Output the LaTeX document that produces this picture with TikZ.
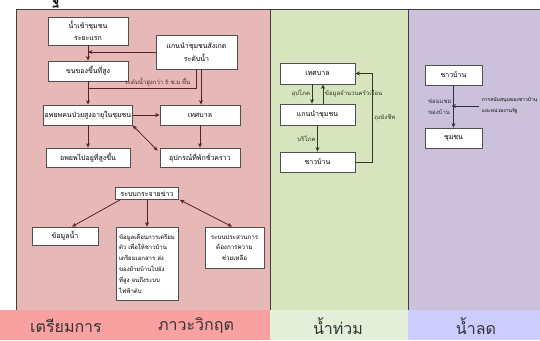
\documentclass[tikz,border=0pt]{standalone}
\usepackage{fontspec}
\newfontfamily\thai[Script=Thai]{Loma}
\usetikzlibrary{positioning,arrows.meta}
\definecolor{pinkpanel}{HTML}{E6B9B8}
\definecolor{greenpanel}{HTML}{D7E4BD}
\definecolor{purplepanel}{HTML}{CCC1DA}
\definecolor{pinkstrip}{HTML}{F9A0A0}
\definecolor{greenstrip}{HTML}{E3EFD9}
\definecolor{purplestrip}{HTML}{CCCCFF}
\definecolor{boxline}{HTML}{505050}
\definecolor{pinkarrow}{HTML}{5C1F1F}
\definecolor{greenarrow}{HTML}{2F3A1A}
\definecolor{purplearrow}{HTML}{2B2B55}
\begin{document}
\begin{tikzpicture}[x=1pt, y=-1pt, line width=0.8pt, >={Stealth[length=4.5pt,width=4pt]},
	main/.style = {draw=boxline, fill=white, inner sep=1pt, align=center, font=\thai\fontsize{7}{12.5}\selectfont},
	lbl/.style = {font=\thai\fontsize{6}{11}\selectfont, inner sep=1.5pt, align=left},
	phase/.style = {font=\thai\fontsize{16}{18}\selectfont, text=black!80}]
		\useasboundingbox (0,0) rectangle (540,340);
		%Panels and bottom strip
		\fill[pinkpanel] (16,9) rectangle (270,310);
		\fill[greenpanel] (270,9) rectangle (408,310);
		\fill[purplepanel] (408,9) rectangle (540,310);
		\draw[black!75] (540,9) -- (16,9) -- (16,310) -- (540,310);
		\draw[black!75] (270,9) -- (270,310);
		\draw[black!75] (408,9) -- (408,310);
		\fill[pinkstrip] (0,310) rectangle (270,340);
		\fill[greenstrip] (270,310) rectangle (408,340);
		\fill[purplestrip] (408,310) rectangle (540,340);
		\node[font=\thai\bfseries\fontsize{14}{14}\selectfont] (0) at (56,2) {ฐ};
		
		%Preparation part
		\node[main, minimum width=80pt, minimum height=28pt] (1) at (88,31) {น้ำเข้าชุมชน\\ระยะแรก};
		\node[main, minimum width=81pt, minimum height=34pt] (2) at (196.5,52) {แกนนำชุมชนสังเกต\\ระดับน้ำ};
		\node[main, minimum width=80pt, minimum height=20pt] (3) [node distance={40pt},below of=1] {ขนของขึ้นที่สูง};
		\node[main, minimum width=84pt, minimum height=20pt] (4) [node distance={44pt},below of=3] {อพยพคนป่วยสูงอายุในชุมชน};
		\node[main, minimum width=80pt, minimum height=20pt] (5) [node distance={112pt},right of=4] {เทศบาล};
		\node[main, minimum width=84pt, minimum height=19pt] (6) [node distance={42.5pt},below of=4] {อพยพไปอยู่ที่สูงขึ้น};
		\node[main, minimum width=80pt, minimum height=19pt] (7) [node distance={112pt},right of=6] {อุปกรณ์ที่พักชั่วคราว};
		%Crisis part
		\node[main, minimum width=63pt, minimum height=12pt] (8) at (147,193.5) {ระบบกระจายข่าว};
		\node[main, minimum width=66pt, minimum height=18pt] (9) at (65,236) {ข้อมูลน้ำ};
		\node[main, minimum width=62pt, minimum height=73pt, font=\thai\fontsize{6}{10.8}\selectfont, align=left] (10) [node distance={70pt},below of=8] {ข้อมูลเตือนการเตรียม\\ตัว เพื่อให้ชาวบ้าน\\เตรียมเอกสาร ส่ง\\ของย้ายบ้านไปยัง\\ที่สูง จนถึงระบบ\\ไฟฟ้าดับ};
		\node[main, minimum width=59pt, minimum height=41pt, font=\thai\fontsize{6.2}{10.5}\selectfont] (11) at (234.5,247.5) {ระบบประสานการ\\ต้องการความ\\ช่วยเหลือ};
		%Flood part
		\node[main, minimum width=75pt, minimum height=21pt] (12) at (317.5,73.5) {เทศบาล};
		\node[main, minimum width=75pt, minimum height=21pt] (13) [node distance={41pt},below of=12] {แกนนำชุมชน};
		\node[main, minimum width=75pt, minimum height=20pt] (14) [node distance={47.5pt},below of=13] {ชาวบ้าน};
		%Receding part
		\node[main, minimum width=57pt, minimum height=20pt] (15) at (453.5,75) {ชาวบ้าน};
		\node[main, minimum width=57pt, minimum height=20pt] (16) [node distance={63pt},below of=15] {ชุมชน};
		\node[lbl, anchor=west, font=\thai\fontsize{5}{11}\selectfont, inner sep=0.5pt] (17) at (481,106) {การสนับสนุนของชาวบ้าน\\และหน่วยงานรัฐ};
		
		%Phase names
		\node[phase] (18) at (66,326) {เตรียมการ};
		\node[phase] (19) at (196,326) {ภาวะวิกฤต};
		\node[phase] (20) at (338,326) {น้ำท่วม};
		\node[phase] (21) at (476,326) {น้ำลด};
		
		%Edges in preparation part
		\path [->, pinkarrow] (1) edge (3); 	%Edge water in -> move up
		\draw[->, pinkarrow] (2.west) -- (2.west -| 1.south); 	%Edge observe -> line
		\draw[pinkarrow] (2.south) |- node[lbl, above, pos=0.68] {ระดับน้ำสูงกว่า 5 ซ.ม.ขึ้น} (3.south |- 0,88); 	%Edge level -> line
		\draw[->, pinkarrow] ([xshift=4.5pt]2.south) -- ([xshift=1pt]5.north); 	%Edge observe -> municipality
		\path [->, pinkarrow] (3) edge (4); 	%Edge move up -> evacuate
		\path [->, pinkarrow] (4) edge (5); 	%Edge evacuate -> municipality
		\path [->, pinkarrow] (4) edge (6); 	%Edge evacuate -> higher place
		\path [->, pinkarrow] (5) edge (7); 	%Edge municipality -> shelter
		\draw[<->, pinkarrow] (4.south east) -- ([xshift=-2pt,yshift=-3pt]7.north west); 	%Edge shelter <-> evacuate
		
		%Edges in crisis part
		\draw[->, pinkarrow] ([xshift=5pt]8.south west) -- ([xshift=7pt]9.north); 	%Edge news -> water data
		\path [->, pinkarrow] (8) edge (10); 	%Edge news -> warning
		\draw[<->, pinkarrow] ([xshift=1pt]8.south east) -- ([xshift=-2.5pt]11.north); 	%Edge news <-> help
		
		%Edges in flood part
		\draw[->, greenarrow] ([xshift=-5.5pt]12.south) -- node[lbl, left] {อุปโภค} ([xshift=-5.5pt]13.north); 	%Edge municipality -> leaders
		\draw[->, greenarrow] ([xshift=5.5pt]13.north) -- node[lbl, right] {ข้อมูลจำนวนครัวเรือน} ([xshift=5.5pt]12.south); 	%Edge leaders -> municipality
		\path [->, greenarrow] (13) edge node[lbl, left] {บริโภค} (14); 	%Edge leaders -> villagers
		\draw[->, greenarrow] (14.east) -- ++(17,0) |- node[lbl, right, pos=0.25] {ถุงยังชีพ} (12.east); 	%Edge villagers -> municipality
		
		%Edges in receding part
		\path [->, purplearrow] (15) edge node[lbl, left] {ซ่อมแซม\\ของบ้าน} (16); 	%Edge villagers -> community
		\draw[->, purplearrow] ([xshift=-2pt]17.west) -- ([xshift=-2pt]17.west -| 15.south); 	%Edge support -> line
	\end{tikzpicture}
\end{document}
